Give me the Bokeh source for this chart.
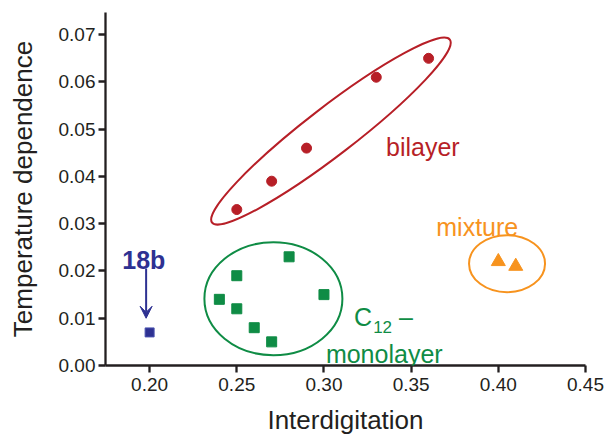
from bokeh.plotting import figure
from bokeh.models import Range1d, FixedTicker, Label, Arrow, VeeHead, NumeralTickFormatter
from bokeh.embed import file_html
from bokeh.resources import INLINE

# ---- data ----
bilayer_x = [0.25, 0.27, 0.29, 0.33, 0.36]
bilayer_y = [0.033, 0.039, 0.046, 0.061, 0.065]
mono_x = [0.24, 0.25, 0.25, 0.26, 0.27, 0.28, 0.30]
mono_y = [0.014, 0.019, 0.012, 0.008, 0.005, 0.023, 0.015]
b18_x = [0.20]
b18_y = [0.007]
mix_x = [0.40, 0.41]
mix_y = [0.022, 0.021]
x_ticks = [0.20, 0.25, 0.30, 0.35, 0.40, 0.45]
y_ticks = [0.00, 0.01, 0.02, 0.03, 0.04, 0.05, 0.06, 0.07]

RED = "#b71f27"
GREEN = "#0f8c45"
ORANGE = "#f7931e"
NAVY = "#2e3192"
INK = "#231f20"
FONT = "Liberation Sans"

p = figure(width=609, height=438, output_backend="svg", toolbar_location=None,
           x_range=Range1d(0.1747, 0.45), y_range=Range1d(0.0, 0.0747),
           min_border_left=105, min_border_right=24, min_border_top=12, min_border_bottom=73)
p.outline_line_color = None
p.xgrid.grid_line_color = None
p.ygrid.grid_line_color = None
p.background_fill_color = "white"

for ax in (p.xaxis[0], p.yaxis[0]):
    ax.axis_line_width = 2.3
    ax.axis_line_color = INK
    ax.major_tick_line_width = 2.3
    ax.major_tick_line_color = INK
    ax.major_tick_out = 7
    ax.major_tick_in = 0
    ax.minor_tick_line_color = None
    ax.major_label_text_font = FONT
    ax.major_label_text_font_size = "19px"
    ax.major_label_text_color = INK
    ax.axis_label_text_font = FONT
    ax.axis_label_text_font_size = "26px"
    ax.axis_label_text_font_style = "normal"
    ax.axis_label_text_color = INK
    ax.formatter = NumeralTickFormatter(format="0.00")

p.xaxis[0].ticker = FixedTicker(ticks=x_ticks)
p.yaxis[0].ticker = FixedTicker(ticks=y_ticks)
p.xaxis[0].axis_label = "Interdigitation"
p.yaxis[0].axis_label = "Temperature dependence"
p.xaxis[0].major_label_standoff = 5
p.yaxis[0].major_label_standoff = 3
p.xaxis[0].axis_label_standoff = 11
p.yaxis[0].axis_label_standoff = 18

# group outlines
p.ellipse(x=[0.304], y=[0.0496], width=[300], height=[48], angle=[0.656],
          width_units="screen", height_units="screen",
          fill_color=None, line_color=RED, line_width=2)
p.ellipse(x=[0.271], y=[0.01413], width=[138], height=[113],
          width_units="screen", height_units="screen",
          fill_color=None, line_color=GREEN, line_width=2)
p.ellipse(x=[0.405], y=[0.02155], width=[76], height=[57],
          width_units="screen", height_units="screen",
          fill_color=None, line_color=ORANGE, line_width=2)

# data points
p.scatter(bilayer_x, bilayer_y, marker="circle", size=10, fill_color=RED, line_color=RED)
p.scatter(mono_x, mono_y, marker="square", size=10, fill_color=GREEN, line_color=GREEN)
p.scatter(b18_x, b18_y, marker="square", size=9, fill_color=NAVY, line_color="#4a52b0")
p.scatter(mix_x, mix_y, marker="triangle", size=14, fill_color=ORANGE, line_color=ORANGE)

# annotations
def lab(x, y, t, color, size="25px", style="normal"):
    p.add_layout(Label(x=x, y=y, text=t, text_color=color, text_font=FONT,
                       text_font_size=size, text_font_style=style,
                       text_baseline="alphabetic", text_align="left"))

lab(0.3356, 0.04625, "bilayer", RED)
lab(0.3644, 0.0293, "mixture", ORANGE)
lab(0.3172, 0.01017, "C", GREEN)
lab(0.3282, 0.00805, "12", GREEN, size="17px")
lab(0.3431, 0.01017, "\u2013", GREEN)
lab(0.3011, 0.0025, "monolayer", GREEN)
lab(0.1843, 0.02225, "18b", NAVY, style="bold")

p.add_layout(Arrow(end=VeeHead(size=12, fill_color=NAVY, line_color=NAVY),
                   x_start=0.198, y_start=0.02055, x_end=0.198, y_end=0.01,
                   line_color=NAVY, line_width=2))

open("out.html", "w").write(file_html(p, INLINE))
